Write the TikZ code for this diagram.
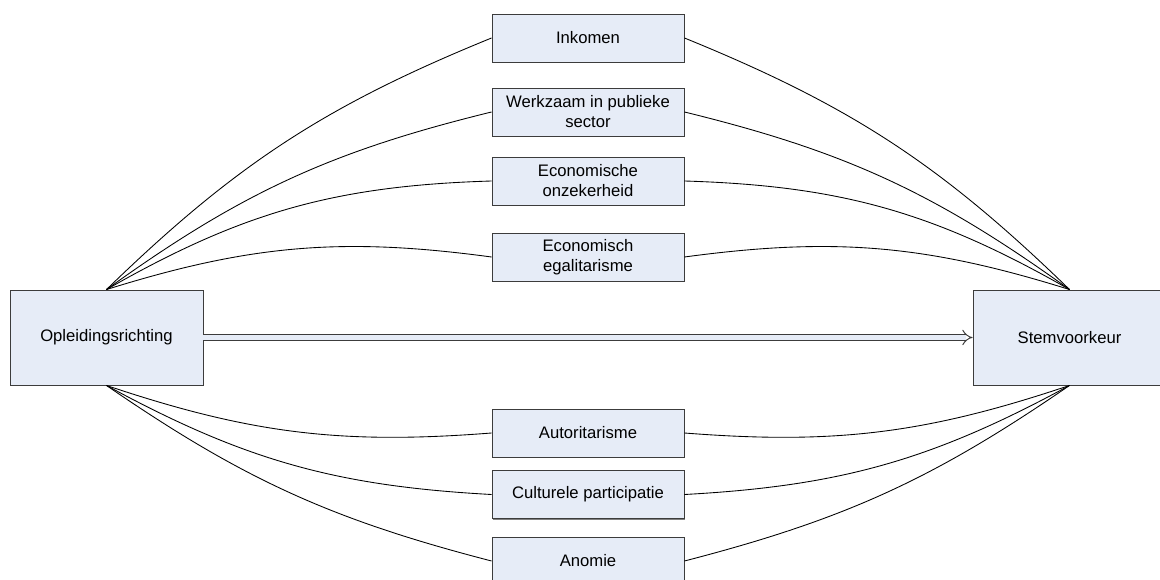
\documentclass[tikz,border=0pt]{standalone}
\usepackage{fontspec}
\setmainfont{Liberation Sans}
\usetikzlibrary{arrows.meta,shadows}
\definecolor{boxfill}{RGB}{230,236,247}
\definecolor{boxline}{RGB}{60,60,60}
\begin{document}
\begin{tikzpicture}[x=0.75pt,y=0.75pt,
  box/.style={draw=boxline, fill=boxfill, line width=0.7pt, inner sep=0pt, align=center,
    font=\fontsize{12.5}{15}\selectfont,
    drop shadow={shadow xshift=0.9pt, shadow yshift=-0.9pt, fill=black!50, opacity=1}},
  midbox/.style={box, minimum width=144pt, minimum height=36pt},
  endbox/.style={box, minimum width=144.75pt, minimum height=71.25pt},
  link/.style={draw=black, line width=0.65pt}]
\path[use as bounding box, clip] (0,0) rectangle (1160,-580);
\node[endbox] (L) at (106.5,-337.5) {Opleidingsrichting};
\node[endbox] (R) at (1069.5,-337.5) {Stemvoorkeur};
\node[midbox] (m1) at (588,-38) {Inkomen};
\node[midbox] (m2) at (588,-112) {Werkzaam in publieke\\sector};
\node[midbox] (m3) at (588,-181) {Economische\\onzekerheid};
\node[midbox] (m4) at (588,-257) {Economisch\\egalitarisme};
\node[midbox] (m5) at (588,-433) {Autoritarisme};
\node[midbox] (m6) at (588,-494.5) {Culturele participatie};
\node[midbox] (m7) at (588,-561) {Anomie};
% upper links
\draw[link] (L.north) to[bend left=11] (m1.west);
\draw[link] (L.north) to[bend left=11] (m2.west);
\draw[link] (L.north) to[bend left=14] (m3.west);
\draw[link] (L.north) to[bend left=12.5] (m4.west);
\draw[link] (m1.east) to[bend left=11] (R.north);
\draw[link] (m2.east) to[bend left=11] (R.north);
\draw[link] (m3.east) to[bend left=14] (R.north);
\draw[link] (m4.east) to[bend left=12.5] (R.north);
% lower links
\draw[link] (L.south) to[bend right=11.5] (m5.west);
\draw[link] (L.south) to[bend right=12.7] (m6.west);
\draw[link] (L.south) to[bend right=10] (m7.west);
\draw[link] (m5.east) to[bend right=11.5] (R.south);
\draw[link] (m6.east) to[bend right=12.7] (R.south);
\draw[link] (m7.east) to[bend right=10] (R.south);
% main arrow
\draw[draw=boxline, line width=0.7pt, double=boxfill, double distance=3.4pt, -{Implies[scale=1.35]}] (L.east) -- (R.west);
\end{tikzpicture}
\end{document}
